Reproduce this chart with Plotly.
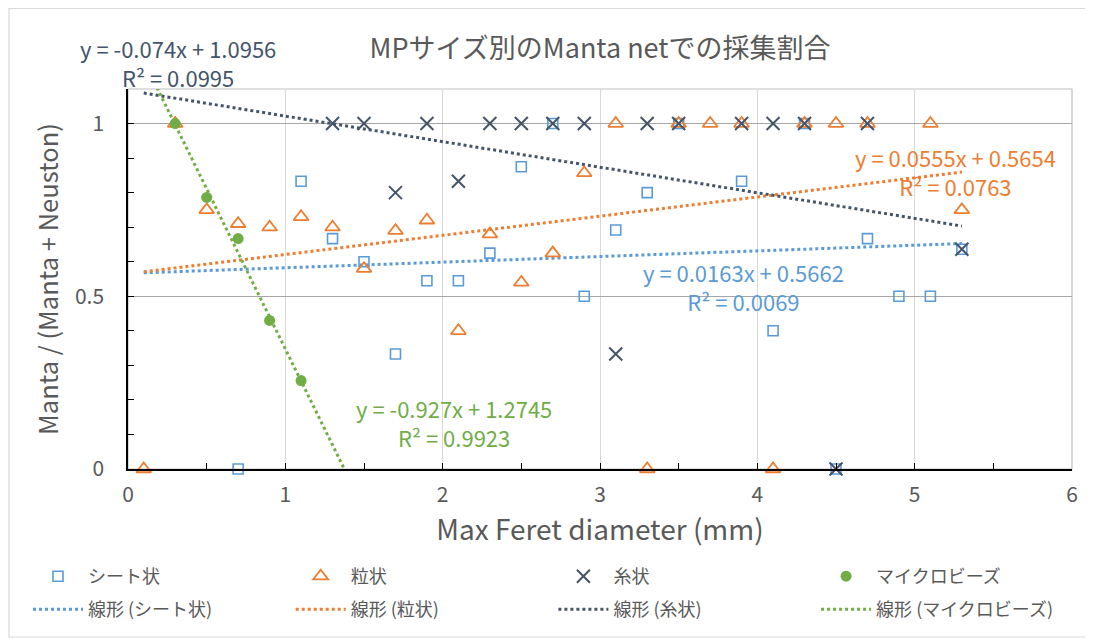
import plotly.graph_objects as go

# ---------------- data ----------------
sheet_x = [0.7, 1.1, 1.3, 1.5, 1.7, 1.9, 2.1, 2.3, 2.5, 2.7, 2.9, 3.1, 3.3, 3.5, 3.9, 4.1, 4.3, 4.5, 4.7, 4.9, 5.1, 5.3]
sheet_y = [0, 0.833, 0.667, 0.6, 0.333, 0.545, 0.545, 0.625, 0.875, 1, 0.5, 0.692, 0.8, 1, 0.833, 0.4, 1, 0, 0.667, 0.5, 0.5, 0.636]

grain_x = [0.1, 0.3, 0.5, 0.7, 0.9, 1.1, 1.3, 1.5, 1.7, 1.9, 2.1, 2.3, 2.5, 2.7, 2.9, 3.1, 3.3, 3.5, 3.7, 3.9, 4.1, 4.3, 4.5, 4.7, 5.1, 5.3]
grain_y = [0, 1, 0.75, 0.71, 0.70, 0.73, 0.70, 0.58, 0.69, 0.72, 0.40, 0.68, 0.54, 0.625, 0.857, 1, 0, 1, 1, 1, 0, 1, 1, 1, 1, 0.75]

thread_x = [1.3, 1.5, 1.7, 1.9, 2.1, 2.3, 2.5, 2.7, 2.9, 3.1, 3.3, 3.5, 3.9, 4.1, 4.3, 4.5, 4.7, 5.3]
thread_y = [1, 1, 0.8, 1, 0.833, 1, 1, 1, 1, 0.333, 1, 1, 1, 1, 1, 0, 1, 0.636]

beads_x = [0.3, 0.5, 0.7, 0.9, 1.1]
beads_y = [1, 0.786, 0.667, 0.43, 0.256]

series_names = ["シート状", "粒状", "糸状", "マイクロビーズ"]
trend_names = ["線形 (シート状)", "線形 (粒状)", "線形 (糸状)", "線形 (マイクロビーズ)"]
trend_slope = [0.0163, 0.0555, -0.074, -0.927]
trend_intercept = [0.5662, 0.5654, 1.0956, 1.2745]
trend_r2 = ["0.0069", "0.0763", "0.0995", "0.9923"]
trend_xrange = [(0.1, 5.3), (0.1, 5.3), (0.1, 5.3), (0.1, 1.4)]
eq_text = ["y = 0.0163x + 0.5662", "y = 0.0555x + 0.5654", "y = -0.074x + 1.0956", "y = -0.927x + 1.2745"]

x_ticks = [0, 1, 2, 3, 4, 5, 6]
y_ticks = [0, 0.5, 1]
X_MAX, Y_MAX = 6, 1.1

colors = ["#5B9BD5", "#ED7D31", "#44546A", "#70AD47"]
FONT = "Noto Sans CJK JP"
GRAY = "#595959"

W, H = 1085, 631          # page adds ~8px body margin
ML, MR, MT, MB = 120, 21, 81, 170
PW, PH = W - ML - MR, H - MT - MB

def legend_id(row, col):
    n = row * 4 + col + 1
    return "legend" if n == 1 else f"legend{n}"

fig = go.Figure()

# trendlines (drawn first, shown in second legend row)
for i in range(4):
    x0, x1 = trend_xrange[i]
    xs = [x0, x1]
    ys = [trend_slope[i] * v + trend_intercept[i] for v in xs]
    fig.add_trace(go.Scatter(
        x=xs, y=ys, mode="lines", name=trend_names[i], legend=legend_id(1, i),
        line=dict(color=colors[i], width=3, dash="dot"), hoverinfo="skip", showlegend=True))

marker_specs = [
    (sheet_x, sheet_y, dict(symbol="square-open", size=10, color=colors[0], line=dict(width=1.6, color=colors[0]))),
    (grain_x, grain_y, dict(symbol="triangle-up-open", size=13, color=colors[1], line=dict(width=1.8, color=colors[1]))),
    (thread_x, thread_y, dict(symbol="x-thin-open", size=13, color=colors[2], line=dict(width=2, color=colors[2]))),
    (beads_x, beads_y, dict(symbol="circle", size=11, color=colors[3], line=dict(width=0))),
]
for i, (xs, ys, mk) in enumerate(marker_specs):
    fig.add_trace(go.Scatter(x=xs, y=ys, mode="markers", name=series_names[i],
                             marker=mk, cliponaxis=False, legend=legend_id(0, i), showlegend=True))

# trendline equation labels (paper coords, placed as in the reference)
eq_pos = [(3.91, 0.527), (5.26, 0.86), (0.32, 1.178), (2.07, 0.136)]
for i in range(4):
    fig.add_annotation(x=eq_pos[i][0] / X_MAX, y=eq_pos[i][1] / Y_MAX, xref="paper", yref="paper",
                       xanchor="center", yanchor="middle",
                       text=f"{eq_text[i]}<br>R² = {trend_r2[i]}", showarrow=False,
                       align="center", font=dict(family=FONT, size=22, color=colors[i]))

# plot frame
fig.add_shape(type="rect", xref="paper", yref="paper", x0=0, x1=1, y0=0, y1=1,
              line=dict(color="#bfbfbf", width=1.2), layer="below")
# outer chart border
fig.add_shape(type="rect", xref="paper", yref="paper",
              x0=-(ML - 1) / PW, x1=1 + (MR - 4) / PW,
              y0=-(MB - 2) / PH, y1=1 + (MT - 0.5) / PH,
              line=dict(color="#d9d9d9", width=1.2), layer="below")

legend_common = dict(orientation="h", xref="container", yref="container",
                     xanchor="left", yanchor="top", visible=True,
                     itemwidth=50, font=dict(size=18, color=GRAY),
                     bgcolor="rgba(0,0,0,0)")
legends = {}
col_step = 262.7
for r, (x_start, y_top) in enumerate([(20, 550), (20, 583)]):
    for c in range(4):
        legends[legend_id(r, c)] = dict(legend_common, x=(x_start + col_step * c) / W, y=1 - y_top / H)

fig.update_layout(
    width=W, height=H, showlegend=True,
    margin=dict(l=ML, r=MR, t=MT, b=MB, autoexpand=False),
    paper_bgcolor="white", plot_bgcolor="white",
    font=dict(family=FONT, color=GRAY, size=19),
    title=dict(text="MPサイズ別のManta netでの採集割合", x=(600 - 8) / W, xanchor="center",
               y=1 - 41 / H, yanchor="middle", font=dict(family=FONT, size=27, color=GRAY)),
    xaxis=dict(range=[0, X_MAX], tickvals=x_ticks, ticks="inside", ticklen=6, tickcolor="black",
               showline=True, linecolor="black", linewidth=1.5, automargin=False,
               showgrid=True, gridcolor="#d9d9d9", gridwidth=1.2, zeroline=False,
               minor=dict(dtick=0.5, ticks="inside", ticklen=6, tickcolor="black", showgrid=False),
               tickfont=dict(size=21, color=GRAY), ticklabelstandoff=6,
               title=dict(text="Max Feret diameter (mm)", font=dict(size=28, color=GRAY), standoff=0)),
    yaxis=dict(range=[0, Y_MAX], tickvals=y_ticks, ticktext=["0", "0.5", "1"], ticks="inside", ticklen=6,
               tickcolor="black", showline=True, linecolor="black", linewidth=1.5, automargin=False,
               showgrid=True, gridcolor="#a6a6a6", gridwidth=1.2, zeroline=False,
               minor=dict(dtick=0.1, ticks="inside", ticklen=6, tickcolor="black", showgrid=False),
               tickfont=dict(size=21, color=GRAY), ticklabelstandoff=18,
               title=dict(text="Manta / (Manta + Neuston)", font=dict(size=25.5, color=GRAY), standoff=9)),
    **legends,
)

fig.write_html("out.html")
